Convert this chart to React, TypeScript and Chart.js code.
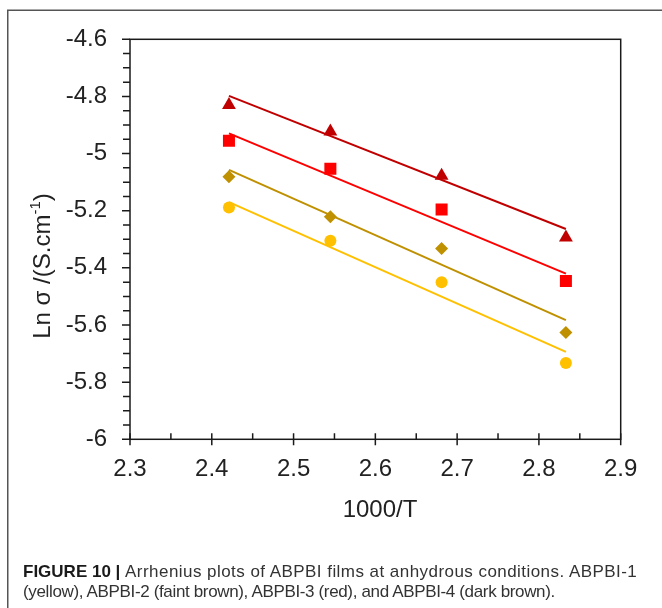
import React, { useEffect, useRef } from 'react';
import { Chart, registerables } from 'chart.js';

Chart.register(...registerables);

// 1000/T values (T = 413, 393, 373, 353 K)
const invT = [2.421, 2.545, 2.681, 2.833];
// Ln sigma values
const abpbi1 = [-5.189, -5.305, -5.45, -5.733]; // yellow
const abpbi2 = [-5.081, -5.221, -5.332, -5.626]; // faint brown
const abpbi3 = [-4.955, -5.053, -5.196, -5.446]; // red
const abpbi4 = [-4.83, -4.923, -5.078, -5.294]; // dark brown
// trend lines: values at first and last 1000/T
const fitX = [2.421, 2.833];
const fit1 = [-5.17, -5.694];
const fit2 = [-5.057, -5.583];
const fit3 = [-4.929, -5.42];
const fit4 = [-4.798, -5.264];

const xTickLabels = ['2.3', '2.4', '2.5', '2.6', '2.7', '2.8', '2.9'];
const yTickLabels = ['-6', '-5.8', '-5.6', '-5.4', '-5.2', '-5', '-4.8', '-4.6'];

const FONT = "'Liberation Sans', Arial, Helvetica, sans-serif";
const FS = 24;

const COLORS = {
  a1: '#FFC000',
  a2: '#BF9000',
  a3: '#FF0000',
  a4: '#C00000',
};

const pts = (xs: number[], ys: number[]) => xs.map((x, i) => ({ x, y: ys[i] }));

const decorPlugin = {
  id: 'decor',
  beforeDraw(chart: any) {
    const ctx = chart.ctx;
    ctx.save();
    ctx.strokeStyle = '#555';
    ctx.lineWidth = 1.5;
    ctx.strokeRect(7.75, 10.25, 800, 800);
    ctx.restore();
  },
  beforeDatasetsDraw(chart: any) {
    const ctx = chart.ctx;
    const { left, right, top, bottom } = chart.chartArea;
    const xs = chart.scales.x;
    const ys = chart.scales.y;
    ctx.save();
    ctx.strokeStyle = '#1a1a1a';
    ctx.lineWidth = 1.5;
    ctx.strokeRect(left, top, right - left, bottom - top);
    ctx.beginPath();
    const xt = xs.ticks.map((t: any) => t.value);
    xt.forEach((v: number, i: number) => {
      const px = xs.getPixelForValue(v);
      ctx.moveTo(px, bottom - 6);
      ctx.lineTo(px, bottom + 6);
      if (i < xt.length - 1) {
        const mx = xs.getPixelForValue((v + xt[i + 1]) / 2);
        ctx.moveTo(mx, bottom);
        ctx.lineTo(mx, bottom - 6);
      }
    });
    const yt = ys.ticks.map((t: any) => t.value);
    yt.forEach((v: number, i: number) => {
      const py = ys.getPixelForValue(v);
      ctx.moveTo(left, py);
      ctx.lineTo(left - 8, py);
      if (i < yt.length - 1) {
        const step = (yt[i + 1] - v) / 4;
        for (let k = 1; k < 4; k++) {
          const my = ys.getPixelForValue(v + step * k);
          ctx.moveTo(left, my);
          ctx.lineTo(left - 7, my);
        }
      }
    });
    ctx.stroke();
    ctx.restore();
  },
  afterDraw(chart: any) {
    const ctx = chart.ctx;
    ctx.save();
    ctx.fillStyle = '#222';
    ctx.font = `${FS}px ${FONT}`;
    ctx.textAlign = 'center';
    ctx.textBaseline = 'alphabetic';
    ctx.fillText('1000/T', 380, 517);
    ctx.translate(50, 266);
    ctx.rotate(-Math.PI / 2);
    ctx.textAlign = 'left';
    const main = 'Ln σ /(S.cm';
    const sup = '-1';
    const close = ')';
    ctx.font = `${FS}px ${FONT}`;
    const wMain = ctx.measureText(main).width;
    const wClose = ctx.measureText(close).width;
    ctx.font = `15px ${FONT}`;
    const wSup = ctx.measureText(sup).width;
    const total = wMain + wSup + wClose;
    let x0 = -total / 2;
    ctx.font = `${FS}px ${FONT}`;
    ctx.fillText(main, x0, 0);
    x0 += wMain;
    ctx.font = `15px ${FONT}`;
    ctx.fillText(sup, x0, -10);
    x0 += wSup;
    ctx.font = `${FS}px ${FONT}`;
    ctx.fillText(close, x0, 0);
    ctx.restore();
  },
};

export default function App() {
  const canvasRef = useRef<HTMLCanvasElement | null>(null);

  useEffect(() => {
    if (!canvasRef.current) return;
    const lineDs = (label: string, ys: number[], color: string) => ({
      label,
      data: pts(fitX, ys),
      showLine: true,
      borderColor: color,
      borderWidth: 2,
      pointRadius: 0,
      fill: false,
    });
    const markDs = (label: string, ys: number[], color: string, style: string, r: number) => ({
      label,
      data: pts(invT, ys),
      showLine: false,
      pointStyle: style,
      pointRadius: r,
      pointBackgroundColor: color,
      pointBorderColor: color,
      pointBorderWidth: 0,
    });
    const chart = new Chart(canvasRef.current, {
      type: 'scatter',
      data: {
        datasets: [
          lineDs('ABPBI-1 fit', fit1, COLORS.a1),
          lineDs('ABPBI-2 fit', fit2, COLORS.a2),
          lineDs('ABPBI-3 fit', fit3, COLORS.a3),
          lineDs('ABPBI-4 fit', fit4, COLORS.a4),
          markDs('ABPBI-1', abpbi1, COLORS.a1, 'circle', 6),
          markDs('ABPBI-2', abpbi2, COLORS.a2, 'rectRot', 6.5),
          markDs('ABPBI-3', abpbi3, COLORS.a3, 'rect', 8.5),
          markDs('ABPBI-4', abpbi4, COLORS.a4, 'triangle', 8),
        ] as any,
      },
      options: {
        animation: false,
        responsive: false,
        maintainAspectRatio: false,
        layout: { padding: { left: 0, top: 39.3, right: 41.3, bottom: 128.7 } },
        plugins: { legend: { display: false }, tooltip: { enabled: false } },
        scales: {
          x: {
            type: 'linear',
            min: 2.3,
            max: 2.9,
            grid: { display: false, drawTicks: false },
            border: { display: false },
            ticks: {
              stepSize: 0.1,
              padding: 16,
              color: '#222',
              font: { family: FONT, size: FS },
              maxRotation: 0,
              callback: (_v: any, i: number) => xTickLabels[i],
            },
            afterFit: (s: any) => {
              s.height = 40;
            },
          },
          y: {
            type: 'linear',
            min: -6,
            max: -4.6,
            grid: { display: false, drawTicks: false },
            border: { display: false },
            ticks: {
              stepSize: 0.2,
              padding: 23,
              color: '#222',
              font: { family: FONT, size: FS },
              callback: (_v: any, i: number) => yTickLabels[i],
            },
            afterFit: (s: any) => {
              s.width = 130;
            },
          },
        },
      } as any,
      plugins: [decorPlugin],
    });
    return () => chart.destroy();
  }, []);

  return (
    <div
      style={{
        position: 'absolute',
        left: 0,
        top: 0,
        width: 662,
        height: 608,
        overflow: 'hidden',
        background: '#fff',
      }}
    >
      <canvas
        ref={canvasRef}
        width={662}
        height={608}
        style={{ position: 'absolute', left: 0, top: 0, width: 662, height: 608 }}
      />
      <div
        style={{
          position: 'absolute',
          left: 23,
          top: 562,
          fontFamily: FONT,
          fontSize: 17,
          lineHeight: '20px',
          color: '#333',
          whiteSpace: 'nowrap',
        }}
      >
        <div>
          <b style={{ color: '#1a1a1a' }}>FIGURE 10 |</b>{' '}
          <span style={{ letterSpacing: '0.45px' }}>
            Arrhenius plots of ABPBI films at anhydrous conditions. ABPBI-1
          </span>
        </div>
        <div style={{ letterSpacing: '-0.35px' }}>
          (yellow), ABPBI-2 (faint brown), ABPBI-3 (red), and ABPBI-4 (dark brown).
        </div>
      </div>
    </div>
  );
}
